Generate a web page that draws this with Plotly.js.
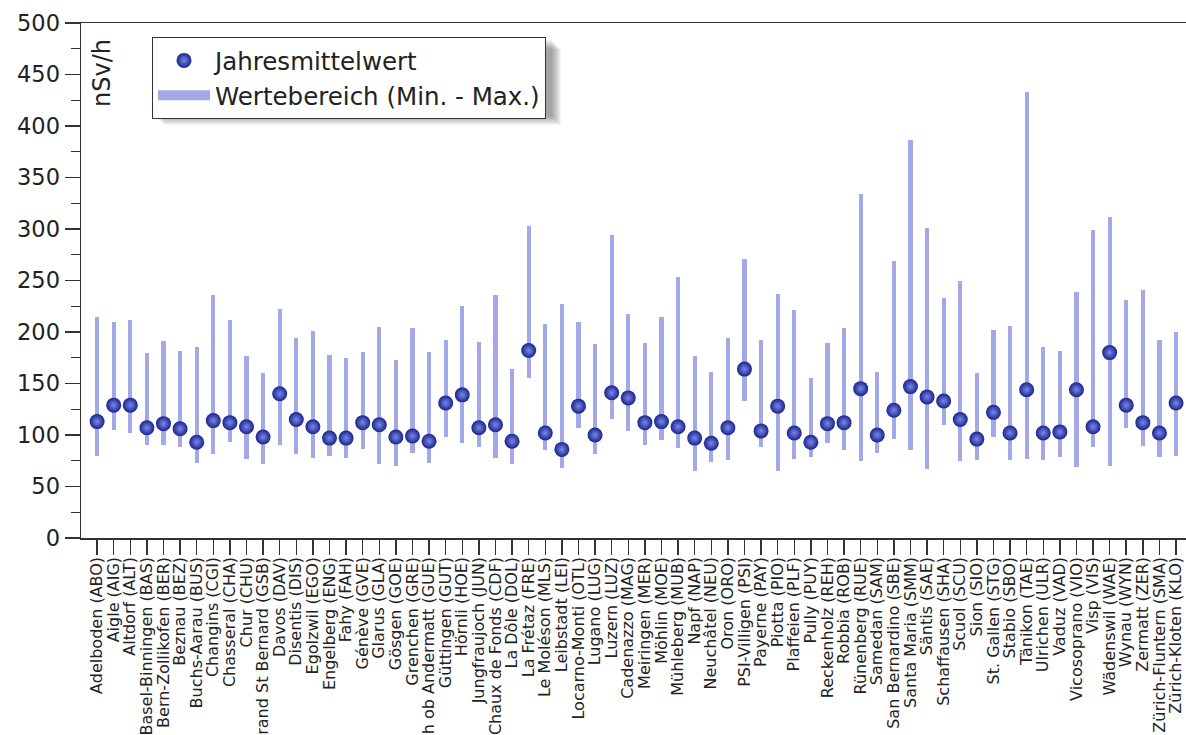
<!DOCTYPE html>
<html>
<head>
<meta charset="utf-8">
<script src="https://cdn.plot.ly/plotly-3.0.1.min.js"></script>
<style>html,body{margin:0;padding:0;background:#fff;}#chart{width:1186px;height:735px;}</style>
</head>
<body>
<div id="chart"></div>
<script>
const stations = ["Adelboden (ABO)","Aigle (AIG)","Altdorf (ALT)","Basel-Binningen (BAS)","Bern-Zollikofen (BER)","Beznau (BEZ)","Buchs-Aarau (BUS)","Changins (CGI)","Chasseral (CHA)","Chur (CHU)","Grand St Bernard (GSB)","Davos (DAV)","Disentis (DIS)","Egolzwil (EGO)","Engelberg (ENG)","Fahy (FAH)","Génève (GVE)","Glarus (GLA)","Gösgen (GOE)","Grenchen (GRE)","Gütsch ob Andermatt (GUE)","Güttingen (GUT)","Hörnli (HOE)","Jungfraujoch (JUN)","Chaux de Fonds (CDF)","La Dôle (DOL)","La Frétaz (FRE)","Le Moléson (MLS)","Leibstadt (LEI)","Locarno-Monti (OTL)","Lugano (LUG)","Luzern (LUZ)","Cadenazzo (MAG)","Meiringen (MER)","Möhlin (MOE)","Mühleberg (MUB)","Napf (NAP)","Neuchâtel (NEU)","Oron (ORO)","PSI-Villigen (PSI)","Payerne (PAY)","Piotta (PIO)","Plaffeien (PLF)","Pully (PUY)","Reckenholz (REH)","Robbia (ROB)","Rünenberg (RUE)","Samedan (SAM)","San Bernardino (SBE)","Santa Maria (SMM)","Säntis (SAE)","Schaffausen (SHA)","Scuol (SCU)","Sion (SIO)","St. Gallen (STG)","Stabio (SBO)","Tänikon (TAE)","Ulrichen (ULR)","Vaduz (VAD)","Vicosoprano (VIO)","Visp (VIS)","Wädenswil (WAE)","Wynau (WYN)","Zermatt (ZER)","Zürich-Fluntern (SMA)","Zürich-Kloten (KLO)"];

const meanValues = [113,129,129,107,111,106,93,114,112,108,98,140,115,108,97,97,112,110,98,99,94,131,139,107,110,94,182,102,86,128,100,141,136,112,113,108,97,92,107,164,104,128,102,93,111,112,145,100,124,147,137,133,115,96,122,102,144,102,103,144,108,180,129,112,102,131];

const minValues = [80,105,102,90,90,88,73,82,93,77,72,90,82,78,80,78,86,72,70,83,73,98,92,88,78,72,155,85,68,107,82,116,104,90,95,87,65,74,76,133,88,65,77,79,92,85,75,83,96,85,67,110,75,76,98,76,77,76,79,69,88,70,107,89,79,80];

const maxValues = [215,210,212,180,191,182,185,236,212,177,160,222,194,201,178,175,181,205,173,204,181,192,225,190,236,164,303,208,227,210,188,294,217,189,215,253,177,161,194,271,192,237,221,155,189,204,334,161,269,386,301,233,250,160,202,206,433,185,182,239,299,312,231,241,192,200];

const yTickVals = [0,50,100,150,200,250,300,350,400,450,500];

const rangeSpan = maxValues.map((v,i)=>v-minValues[i]);
const rangeColor = '#a3a8e8';

const traces = [
  {
    type:'bar', name:'Wertebereich (Min. - Max.)', showlegend:false,
    x: stations, y: rangeSpan, base: minValues,
    width: 0.25,
    marker:{color:rangeColor, line:{width:0}},
    hoverinfo:'skip'
  },
  {
    type:'scatter', mode:'lines', name:'Wertebereich (Min. - Max.)',
    x:[null], y:[null], line:{color:rangeColor, width:15}, showlegend:true
  },
  {
    type:'scatter', mode:'markers', name:'Jahresmittelwert',
    x: stations, y: meanValues,
    marker:{size:15, color:'#18248f', line:{width:0},
            gradient:{type:'radial', color:'#7c88e6'}}
  }
];

// plot area in pixels
const PL = 81, PR = 1186, PT = 23, PB = 538;
const PW = PR - PL, PH = PB - PT;
const lx0 = 152, lx1 = 549, ly0 = 37, ly1 = 113;
const shadowShapes = [];
for (let k=1;k<=10;k++){
  shadowShapes.push({type:'rect', xref:'paper', yref:'paper', layer:'above',
    x0:(lx0-PL+2+k)/PW, x1:(lx1-PL+2+k)/PW,
    y0:(PB-(ly1+2+k))/PH, y1:(PB-(ly0+2+k))/PH,
    fillcolor:'rgba(60,60,60,0.055)', line:{width:0}});
}

const layout = {
  width:1186, height:735,
  margin:{l:PL, r:0, t:PT, b:735-PB},
  paper_bgcolor:'#ffffff', plot_bgcolor:'#ffffff',
  font:{family:'DejaVu Sans, Verdana, sans-serif', color:'#222'},
  showlegend:true,
  legend:{x:(lx0-PL)/PW, y:(PB-ly0)/PH, xanchor:'left', yanchor:'top',
          bgcolor:'#ffffff', bordercolor:'#333', borderwidth:1,
          font:{size:24.5, color:'#222'}, traceorder:'reversed',
          itemwidth:52},
  shapes: shadowShapes,
  bargap:0,
  xaxis:{type:'category', range:[-0.97, 65.6], showgrid:false, zeroline:false,
         showline:true, linecolor:'#333', linewidth:1.5, mirror:true,
         tickmode:'array', tickvals:stations, ticktext:stations,
         ticks:'outside', ticklen:15, tickcolor:'#333', tickwidth:1.5,
         ticklabelstandoff:-4,
         tickangle:-90, tickfont:{size:16, color:'#222'}},
  yaxis:{range:[0,500], showgrid:false, zeroline:false,
         showline:true, linecolor:'#333', linewidth:1.5,
         tickvals:yTickVals, ticks:'outside', ticklen:15, tickcolor:'#333', tickwidth:1.5,
         minor:{dtick:25, ticks:'outside', ticklen:9, tickcolor:'#333', tickwidth:1.2},
         tickfont:{size:22.5, color:'#222'}},
  annotations:[{text:'nSv/h', xref:'paper', yref:'paper', x:(102-PL)/PW, y:(PB-73)/PH,
                textangle:-90, showarrow:false, font:{size:24, color:'#222'},
                xanchor:'center', yanchor:'middle'}]
};

Plotly.newPlot('chart', traces, layout, {displayModeBar:false, staticPlot:true});
</script>
</body>
</html>
